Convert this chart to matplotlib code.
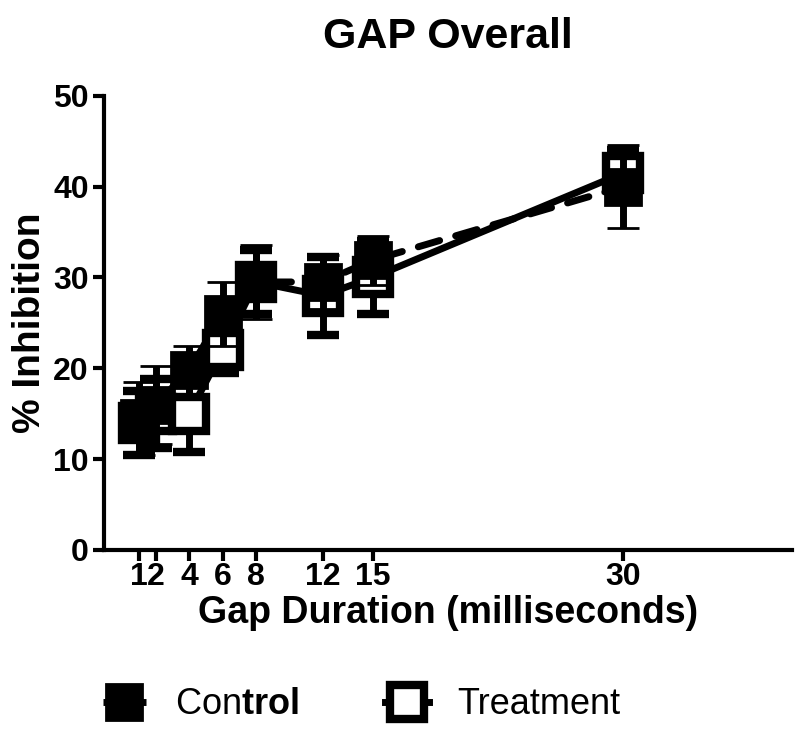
import matplotlib
matplotlib.use("Agg")
import matplotlib.pyplot as plt
from matplotlib.lines import Line2D
import numpy as np

plt.rcParams['font.family'] = ['Liberation Sans', 'DejaVu Sans']
plt.rcParams['mathtext.fontset'] = 'custom'
plt.rcParams['mathtext.rm'] = 'Liberation Sans'
plt.rcParams['mathtext.bf'] = 'Liberation Sans:bold'

gap_ms = [1, 2, 4, 6, 8, 12, 15, 30]
tick_labels = ["1", "2", "4", "6", "8", "12", "15", "30"]
control_mean = [14.5, 16.0, 19.8, 26.0, 29.5, 29.5, 31.9, 40.0]
control_sem = [4.0, 4.3, 2.7, 3.5, 4.1, 3.0, 2.7, 4.6]
treatment_mean = [14.0, 15.0, 15.0, 22.0, 29.5, 28.0, 30.0, 41.5]
treatment_sem = [3.5, 3.8, 4.2, 2.5, 3.5, 4.3, 4.0, 2.5]

fig = plt.figure(figsize=(8, 7.34), dpi=100)
ax = fig.add_axes([0.13, 0.2507, 0.86, 0.6189])

lw = 5
dash = (0, (3.2, 2.4))
ax.errorbar(gap_ms, treatment_mean, yerr=treatment_sem, color='black', lw=lw,
            ls='-', marker='s', ms=25, mfc='white', mec='black', mew=6,
            elinewidth=5, capsize=11.5, capthick=5, zorder=3)
ax.errorbar(gap_ms, control_mean, yerr=control_sem, color='black', lw=lw,
            ls=dash, dash_capstyle='round',
            marker='s', ms=26, mfc='black', mec='black', mew=2,
            elinewidth=5, capsize=11.5, capthick=5, zorder=4)

ax.set_xlim(-1.1, 40.1)
ax.set_ylim(0, 50)
ax.set_xticks(gap_ms)
ax.set_xticklabels(tick_labels)
ax.set_yticks([0, 10, 20, 30, 40, 50])
for s in ['top', 'right']:
    ax.spines[s].set_visible(False)
for s in ['left', 'bottom']:
    ax.spines[s].set_linewidth(3)
ax.tick_params(axis='both', width=3, length=8, labelsize=23, pad=3)
ax.tick_params(axis='x', pad=1)
for lab in ax.get_xticklabels() + ax.get_yticklabels():
    lab.set_fontweight('bold')

ax.set_xlabel("Gap Duration (milliseconds)", fontsize=27, fontweight='bold', labelpad=2)
ax.set_ylabel("% Inhibition", fontsize=28, fontweight='bold', labelpad=4)
ax.set_title("GAP Overall", fontsize=31, fontweight='bold', pad=34)

h1 = Line2D([], [], color='black', lw=lw, ls=dash, marker='s', ms=26,
            mfc='black', mec='black', mew=2)
h2 = Line2D([], [], color='black', lw=lw, ls='-', marker='s', ms=25,
            mfc='white', mec='black', mew=6)
fig.legend([h1, h2], [r"Con$\mathbf{trol}$", "Treatment"], loc='center',
           bbox_to_anchor=(0.452, 0.04), ncol=2, frameon=False, fontsize=26,
           handlelength=1.2, columnspacing=2.4, handletextpad=0.8)

fig.savefig("out.png", dpi=100)
